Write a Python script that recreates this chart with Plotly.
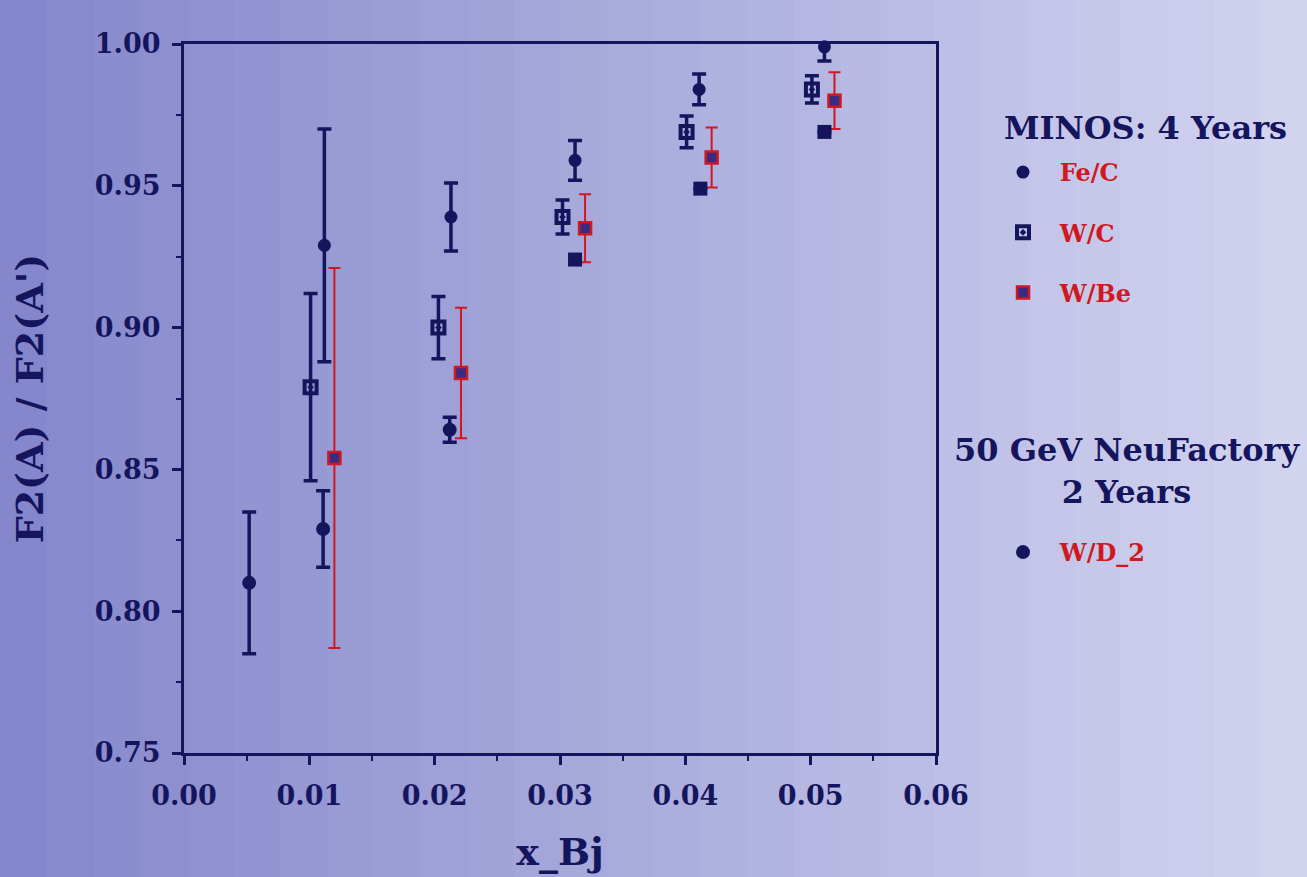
import plotly.graph_objects as go

# ---- data ----
x_fec = [0.0112, 0.0213, 0.0312, 0.0411, 0.0511]
y_fec = [0.929, 0.939, 0.959, 0.984, 0.999]
e_fec = [0.041, 0.012, 0.007, 0.0054, 0.005]

x_wc = [0.0101, 0.0203, 0.0302, 0.0401, 0.0501]
y_wc = [0.879, 0.900, 0.939, 0.969, 0.984]
e_wc = [0.033, 0.011, 0.006, 0.0056, 0.0048]

x_wbe = [0.0120, 0.0221, 0.0320, 0.0421, 0.0519]
y_wbe = [0.854, 0.884, 0.935, 0.960, 0.980]
e_wbe = [0.067, 0.023, 0.012, 0.0106, 0.010]

x_wd2 = [0.0052, 0.0111, 0.0212, 0.0312, 0.0412, 0.0511]
y_wd2 = [0.810, 0.829, 0.864, 0.924, 0.949, 0.969]
e_wd2 = [0.025, 0.0135, 0.0044, 0.0, 0.0, 0.0]
sym_wd2 = ["circle", "circle", "circle", "square", "square", "square"]

NAVY = "#15155e"
RED = "#cf1820"
FONT = "DejaVu Serif"
NB = "\u00a0"

fig = go.Figure()

fig.add_trace(go.Scatter(
    x=x_fec, y=y_fec, mode="markers", name=NB * 2 + "Fe/C",
    legend="legend", legendgroup="a",
    marker=dict(symbol="circle", size=13, color=NAVY),
    error_y=dict(type="data", array=e_fec, visible=True, color=NAVY, thickness=3.5, width=7),
    cliponaxis=False))
fig.add_trace(go.Scatter(
    x=x_wc, y=y_wc, mode="markers", name=NB * 2 + "W/C",
    legend="legend", legendgroup="b",
    marker=dict(symbol="square-open-dot", size=12, color=NAVY, line=dict(width=4, color=NAVY)),
    error_y=dict(type="data", array=e_wc, visible=True, color=NAVY, thickness=3.5, width=7),
    cliponaxis=False))
fig.add_trace(go.Scatter(
    x=x_wbe, y=y_wbe, mode="markers", name=NB * 2 + "W/Be",
    legend="legend", legendgroup="c",
    marker=dict(symbol="square", size=12, color="#3a2a80", line=dict(width=2.5, color=RED)),
    error_y=dict(type="data", array=e_wbe, visible=True, color=RED, thickness=2, width=6),
    cliponaxis=False))
fig.add_trace(go.Scatter(
    x=x_wd2, y=y_wd2, mode="markers", name=NB * 2 + "W/D_2",
    legend="legend2",
    marker=dict(symbol=sym_wd2, size=14, color=NAVY),
    error_y=dict(type="data", array=e_wd2, visible=True, color=NAVY, thickness=3.5, width=7),
    cliponaxis=False))

# background gradient of the scanned page
shapes = []
n = 28
c0 = (0x84, 0x87, 0xcb)
c1 = (0xd2, 0xd3, 0xef)
x_lo, x_hi = -184 / 752, 1123 / 752
for i in range(n):
    t = i / (n - 1)
    col = tuple(int(round(a + (b - a) * t)) for a, b in zip(c0, c1))
    shapes.append(dict(type="rect", xref="paper", yref="paper", layer="below",
                       x0=x_lo + (x_hi - x_lo) * i / n, x1=x_lo + (x_hi - x_lo) * (i + 1) / n + 0.002,
                       y0=-0.2, y1=1.07, line=dict(width=0),
                       fillcolor="rgb(%d,%d,%d)" % col))

axis_common = dict(
    showgrid=False, zeroline=False, showline=True, linewidth=3, linecolor=NAVY, mirror=True,
    ticks="outside", ticklen=9, tickwidth=2.5, tickcolor=NAVY,
    tickfont=dict(family=FONT, size=27, color=NAVY, weight="bold"),
    tickformat=".2f", automargin=False,
)

fig.update_layout(
    width=1307, height=877,
    margin=dict(l=184, r=371, t=44, b=124),
    paper_bgcolor="#aeb0de", plot_bgcolor="rgba(0,0,0,0)",
    shapes=shapes,
    xaxis=dict(range=[0, 0.06], dtick=0.01, tick0=0,
               minor=dict(dtick=0.005, ticks="outside", ticklen=5, tickwidth=2, tickcolor=NAVY),
               title=dict(text="x_Bj", standoff=28,
                          font=dict(family=FONT, size=38, color=NAVY, weight="bold")),
               ticklabelstandoff=8,
               **axis_common),
    yaxis=dict(range=[0.75, 1.0], dtick=0.05, tick0=0.75,
               minor=dict(dtick=0.025, ticks="outside", ticklen=5, tickwidth=2, tickcolor=NAVY),
               title=dict(text="F2(A) / F2(A')", standoff=40,
                          font=dict(family=FONT, size=38, color=NAVY, weight="bold")),
               ticklabelstandoff=6,
               **axis_common),
    legend=dict(x=(1003 - 184) / 752, xanchor="left", y=1 - (150 - 44) / 709, yanchor="top",
                bgcolor="rgba(0,0,0,0)", tracegroupgap=26,
                font=dict(family=FONT, size=24, color=RED, weight="bold")),
    legend2=dict(x=(1003 - 184) / 752, xanchor="left", y=1 - (530 - 44) / 709, yanchor="top",
                 bgcolor="rgba(0,0,0,0)",
                 font=dict(family=FONT, size=24, color=RED, weight="bold")),
    annotations=[
        dict(text="MINOS: 4 Years", xref="paper", yref="paper",
             x=(1145 - 184) / 752, y=1 - (128 - 44) / 709, xanchor="center", yanchor="middle",
             showarrow=False, font=dict(family=FONT, size=32, color=NAVY, weight="bold")),
        dict(text="50 GeV NeuFactory<br>2 Years", xref="paper", yref="paper",
             x=(1127 - 184) / 752, y=1 - (471 - 44) / 709, xanchor="center", yanchor="middle",
             showarrow=False, align="center",
             font=dict(family=FONT, size=32, color=NAVY, weight="bold")),
    ],
)

fig.write_html("out.html")
